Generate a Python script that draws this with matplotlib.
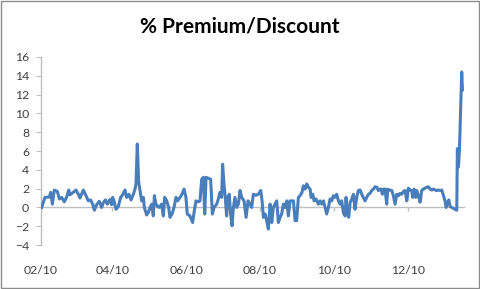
import numpy as np
import pandas as pd
import matplotlib
matplotlib.use("Agg")
import matplotlib.pyplot as plt
import matplotlib.dates as mdates
from matplotlib.patches import Rectangle

####################################
# days after 2010-02-01 and % premium/discount

day = [0.5, 3.3, 6.9, 8.0, 9.4, 11.0, 13.5, 15.2, 17.1, 19.3, 21.2, 22.9, 24.0, 26.7, 28.9,
       30.9, 32.2, 35.0, 37.2, 39.1, 41.0, 42.7, 44.1, 46.0, 48.2, 50.1, 51.5, 53.2, 54.8,
       57.0, 58.4, 59.2, 60.3, 62.0, 63.9, 65.8, 67.5, 69.4, 70.8, 72.7, 74.4, 76.3, 77.7,
       78.5, 79.6, 80.7, 81.8, 83.2, 84.6, 85.4, 87.3, 88.7, 90.1, 91.5, 92.8, 93.7, 95.0,
       96.4, 97.8, 99.7, 101.1, 102.2, 103.9, 105.5, 106.6, 108.3, 109.9, 111.6, 112.9,
       114.9, 116.5, 118.2, 119.8, 120.9, 123.1, 125.3, 126.7, 128.1, 130.0, 131.4, 132.8,
       134.2, 135.3, 136.4, 138.3, 140.2, 141.6, 143.0, 145.2, 146.6, 147.9, 149.3, 150.1,
       151.2, 152.3, 153.4, 154.5, 155.6, 156.7, 157.9, 159.0, 160.3, 161.7, 163.1, 164.5,
       165.9, 167.8, 169.5, 171.1, 172.8, 174.1, 175.5, 177.7, 179.6, 181.6, 182.7, 183.8,
       185.2, 186.5, 187.9, 189.3, 190.7, 192.0, 193.4, 194.8, 196.2, 197.6, 198.9, 200.3,
       201.7, 203.1, 204.4, 205.8, 207.2, 208.6, 210.0, 211.3, 212.7, 214.1, 215.7, 216.8,
       218.2, 219.6, 221.0, 222.4, 223.2, 224.6, 225.7, 227.3, 229.2, 230.6, 232.0, 233.4,
       234.8, 236.1, 237.5, 238.9, 240.3, 241.6, 243.0, 244.4, 245.8, 247.2, 248.5, 249.9,
       251.3, 252.1, 253.2, 254.3, 255.4, 256.8, 258.2, 259.5, 260.9, 262.3, 263.7, 265.1,
       266.4, 267.8, 269.2, 270.6, 271.9, 273.3, 274.7, 276.1, 277.5, 278.8, 280.2, 281.0,
       282.1, 283.0, 284.3, 285.7, 286.5, 287.9, 289.9, 291.2, 292.6, 294.0, 295.4, 296.7,
       298.1, 299.5, 300.9, 302.3, 303.6, 305.0, 306.4, 307.2, 308.3, 309.7, 310.5, 311.9,
       313.3, 314.6, 316.0, 317.4, 318.8, 320.2, 321.5, 322.9, 324.3, 325.7, 327.0, 328.4,
       329.8, 331.2, 332.6, 333.9, 334.8, 335.9, 337.0, 338.1, 339.4, 340.8, 342.2, 343.6,
       344.1, 345.0, 345.8, 347.7, 348.3]

prem = [0.0, 1.07, 1.1, 1.6, 0.35, 1.85, 1.7, 0.9, 1.07, 0.6, 1.1, 1.85, 1.35, 1.6, 1.85,
        1.4, 1.0, 1.85, 1.25, 0.7, 0.8, 0.35, -0.3, 0.3, 0.65, 0.0, 0.5, 0.8, 0.35,
        0.85, 0.3, 1.07, 0.7, -0.2, 0.1, 1.07, 1.35, 1.85, 1.07, 1.4, 0.8, 1.4, 1.95,
        2.5, 6.75, 2.7, 1.8, 0.7, 1.07, 0.0, -0.8, -0.55, 0.0, 0.35, -0.9, 1.25, 0.35,
        0.1, 0.0, 0.35, -0.9, 1.07, 0.7, 0.0, -1.05, -0.7, 0.0, 1.07, 0.7,
        1.07, 1.4, 1.95, 1.07, -0.7, -0.9, -1.6, -0.35, 0.7, 0.6, 0.7, 3.0,
        3.2, -0.7, 3.2, 3.1, 3.0, -0.7, 0.0, 0.35, 0.9, 1.6, 1.07, 4.6,
        2.5, 1.07, -0.9, 1.07, 1.4, -0.7, -1.95, 0.0, 1.07, 0.0, 0.35, 1.8,
        1.07, 0.7, -1.05, 0.7, 0.35, 0.0, 1.4, 1.3, 1.4, 1.8, 0.7, -1.05,
        -0.7, -1.4, -2.3, 0.35, -1.6, 0.0, 0.35, 0.7, -1.6, -1.05, -0.7, 0.35,
        0.0, 0.7, -0.9, 0.7, 0.7, 0.7, -1.4, -1.4, 1.07, 1.25, 1.6, 2.3,
        1.95, 2.5, 2.15, 1.95, 1.07, 1.4, 0.7, 0.9, 0.35, 0.7, 0.35, 0.7,
        0.0, -0.7, 0.0, 0.9, 0.7, 1.25, 1.07, 1.4, 0.7, 0.35, 0.7, -0.55,
        -0.9, 1.07, -0.7, -1.05, 0.5, 0.9, 1.4, -0.2, 1.07, 1.8, 1.85, 1.4,
        1.07, 0.7, 1.07, 1.4, 1.5, 1.8, 1.95, 2.2, 2.15, 1.8, 1.95, 1.95,
        1.4, 1.95, 1.95, 0.35, 1.95, 1.85, 1.8, 1.25, 0.35, 1.4, 1.25, 1.5,
        1.4, 1.7, 1.8, 0.7, 2.05, 1.85, 1.8, 1.07, 1.95, 1.07, 1.8, 1.25,
        0.55, 1.8, 1.95, 2.05, 2.15, 2.2, 1.95, 1.85, 1.95, 1.85, 1.8, 1.85,
        1.8, 1.85, 1.25, 0.7, 0.0, 0.5, 0.8, 0.1, 0.0, -0.1, -0.2, -0.3,
        6.25, 4.3, 6.05, 14.4, 12.5]

start = pd.Timestamp("2010-02-01")
dates = start + pd.to_timedelta(day, unit="D")
x_end = start + pd.Timedelta(days=350.5)
tick_dates = pd.date_range("2010-02-01", "2010-12-01", freq="2MS")

####################################

plt.rcParams["font.family"] = ["Lato", "DejaVu Sans"]

fig = plt.figure(figsize=(4.8, 2.89), dpi=100)
ax = fig.add_axes([0.0854, 0.152, 0.8836, 0.651])

ax.plot(dates, prem, color="#4A7EBB", lw=2.2, zorder=3)

ax.set_xlim(start, x_end)
ax.set_ylim(-4, 16)
ax.set_yticks(np.arange(-4, 17, 2))

# zero line with its tick marks, labels stay at the bottom
ax.axhline(0, color="#BFBFBF", lw=1.0, zorder=2)
ax.vlines(tick_dates, -0.35, 0, color="#BFBFBF", lw=1.0, zorder=2)

ax.set_xticks(tick_dates)
ax.xaxis.set_major_formatter(mdates.DateFormatter("%m/%y"))
ax.tick_params(axis="x", length=0, pad=14, labelsize=8.8, labelcolor="#404040")
ax.tick_params(axis="y", length=3.5, width=0.8, color="#BFBFBF", pad=5,
               labelsize=8.8, labelcolor="#404040")

for s in ["top", "right", "bottom"]:
    ax.spines[s].set_visible(False)
ax.spines["left"].set_color("#BFBFBF")
ax.spines["left"].set_linewidth(1.0)

fig.text(0.5, 0.91, "% Premium/Discount", ha="center", va="center",
         fontsize=15, fontweight="bold", color="black")

fig.patches.append(Rectangle((0.002, 0.003), 0.995, 0.993, transform=fig.transFigure,
                             fill=False, edgecolor="#8C8C8C", lw=1.0))

fig.savefig("out.png", dpi=100)
